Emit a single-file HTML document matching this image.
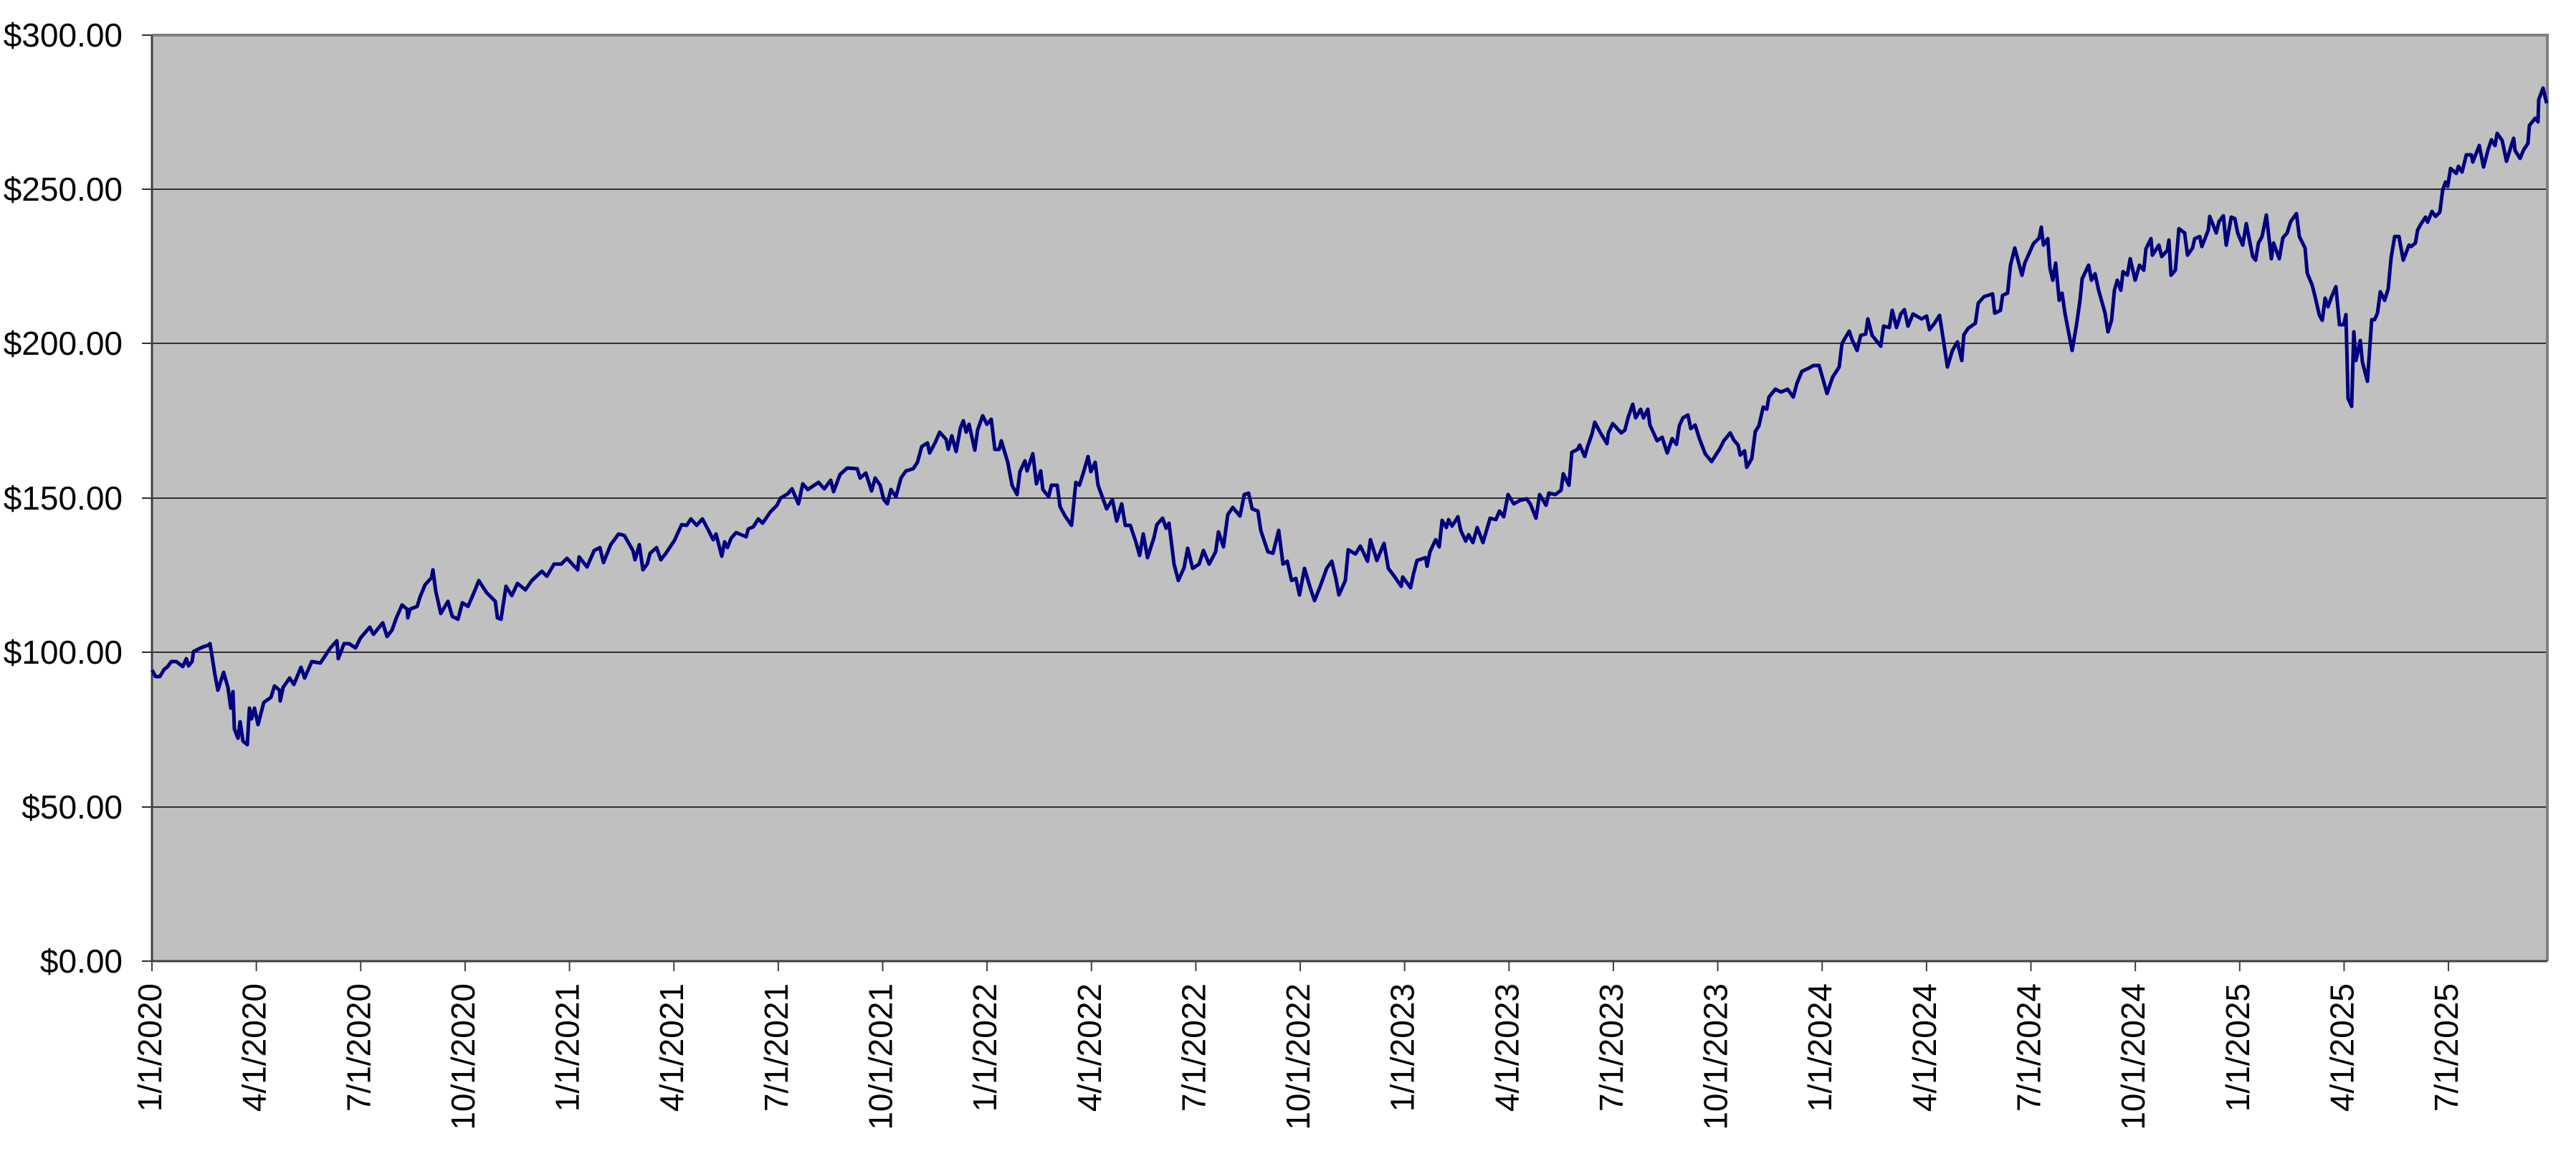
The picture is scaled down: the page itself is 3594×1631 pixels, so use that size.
<!DOCTYPE html>
<html><head><meta charset="utf-8"><style>
html,body{margin:0;padding:0;background:#fff;}
svg{display:block;}
text{font-family:"Liberation Sans",Arial,sans-serif;font-size:46px;fill:#000;}
</style></head><body>
<svg width="3594" height="1631" viewBox="0 0 3594 1631" xmlns="http://www.w3.org/2000/svg">
<rect x="212" y="49" width="3342" height="1292" fill="#c0c0c0"/>
<g stroke="#303030" stroke-width="2">
<line x1="198" y1="264" x2="3554" y2="264"/>
<line x1="198" y1="479" x2="3554" y2="479"/>
<line x1="198" y1="695" x2="3554" y2="695"/>
<line x1="198" y1="910" x2="3554" y2="910"/>
<line x1="198" y1="1126" x2="3554" y2="1126"/>
<line x1="198" y1="49" x2="212" y2="49"/>
<line x1="198" y1="1341" x2="212" y2="1341"/>
</g>
<polyline fill="none" stroke="#808080" stroke-width="4" points="212,49 3554,49 3554,1341"/>
<polyline fill="none" stroke="#404040" stroke-width="3" points="212,49 212,1341 3554,1341"/>
<g stroke="#404040" stroke-width="2" id="ticks"></g>
<g text-anchor="end">
<text x="171" y="65">$300.00</text>
<text x="171" y="280">$250.00</text>
<text x="171" y="495">$200.00</text>
<text x="171" y="711">$150.00</text>
<text x="171" y="926">$100.00</text>
<text x="171" y="1142">$50.00</text>
<text x="171" y="1357">$0.00</text>
</g>
<g id="xl" text-anchor="end"></g>
<polyline fill="none" stroke="#000080" stroke-width="5" stroke-linejoin="round" points="
212,935 214,938 217,944 223,944 229,934 234,930 239,923 246,923 255,930 260,919 263,929 268,923 270,909 280,904 285,902 291,900 293,898 300,942 304,963 312,938 318,959 322,988 325,965 327,1017 332,1030 335,1007 339,1034 345,1039 348,988 351,1003 355,988 360,1011 368,980 378,973 383,957 390,963 391,978 395,959 404,946 410,955 420,931 425,946 435,923 447,925 461,904 470,894 472,919 480,898 487,898 496,904 503,890 516,875 521,885 534,869 540,888 547,879 553,862 561,844 568,850 569,862 572,850 582,846 586,833 593,816 602,806 604,795 608,825 615,856 625,839 631,860 639,864 645,841 653,846 662,825 668,810 679,827 691,839 694,862 699,864 706,818 714,831 722,814 733,823 742,810 756,797 763,804 773,787 783,787 791,779 806,795 808,777 819,791 829,768 837,764 842,785 852,760 863,745 871,747 883,768 886,781 892,760 897,795 903,787 907,772 916,764 922,781 929,772 941,754 951,732 958,733 964,724 972,733 980,724 988,739 995,753 999,745 1007,776 1011,756 1015,764 1020,751 1027,743 1041,749 1044,738 1051,735 1058,724 1064,730 1075,714 1084,705 1089,695 1099,689
1105,682 1114,703 1120,675 1127,683 1142,673 1150,682 1159,670 1163,686 1172,662 1182,653 1196,654 1200,667 1208,660 1216,685 1221,667 1228,677 1233,697 1238,703 1243,683 1250,693 1257,667 1264,657 1274,654 1280,645 1286,623 1294,618 1297,632 1305,617 1311,603 1320,613 1323,627 1328,608 1334,630 1340,597 1344,587 1348,603 1352,592 1360,628 1364,600 1371,580 1377,592 1383,585 1388,627 1394,627 1397,615 1406,645 1412,677 1419,690 1423,658 1430,643 1433,657 1441,633 1446,675 1452,657 1455,683 1463,693 1467,677 1475,677 1479,707 1486,720 1495,733 1501,673 1506,677 1512,658 1518,637 1522,658 1528,645 1532,677 1544,710 1552,697 1558,727 1565,703 1570,733 1577,733 1585,757 1590,775 1595,745 1601,778 1610,750 1614,732 1622,723 1627,737 1631,730 1638,787 1644,810 1652,792 1657,765 1664,793 1673,787 1679,768 1687,787 1696,770 1700,742 1707,763 1713,718 1720,708 1730,720 1736,690 1742,688 1747,710 1755,713 1759,740 1769,770 1776,772 1784,740 1790,787 1796,783 1802,810 1808,807 1813,830 1820,793 1828,820 1834,838 1842,818 1851,793 1858,783 1864,808 1868,830 1877,810 1881,767 1891,773 1898,762 1908,783 1912,753 1921,782 1931,758 1937,793 1946,805 1955,818 1957,805 1968,820 1972,801 1977,782 1989,778 1991,790 1995,770 2003,753 2008,763 2012,726 2018,736 2021,725 2026,734 2034,721 2038,740 2045,755 2049,746 2055,757 2061,736 2069,757 2079,723 2087,725 2092,713 2098,721 2104,690 2112,703 2121,698 2130,696 2135,703 2143,723 2148,690 2157,705 2161,688 2170,690 2178,684 2181,661 2189,677 2193,631 2201,627 2204,621 2211,637 2215,623 2221,606 2225,589 2233,604 2242,619 2244,604 2250,591 2262,604 2267,600 2272,581 2278,564 2282,583 2289,571 2293,583 2299,571 2302,593 2312,615 2319,610 2326,632 2333,612 2339,620 2343,594 2348,583 2355,579 2359,598 2365,593 2371,612 2379,633 2388,644 2395,633 2399,627 2405,615 2414,604 2419,614 2425,621 2428,635 2434,629 2437,652 2444,640 2449,602 2454,594 2460,568 2465,571 2468,554 2477,543 2485,547 2494,543 2502,554 2507,535 2514,518 2523,514 2530,510 2538,510 2549,549 2557,526 2566,512 2570,479 2580,462 2584,474 2591,489 2596,468 2603,466 2606,445 2612,468 2624,483 2628,455 2636,457 2640,433 2646,457 2652,438 2657,432 2662,455 2669,438 2681,445 2688,441 2692,460 2699,451 2706,440 2711,472 2717,512 2724,489 2731,477 2737,503 2740,467 2746,458 2756,451 2760,423 2768,414 2780,410 2783,437 2791,433 2794,412 2801,409 2805,370 2811,346 2821,384 2825,367 2837,340 2845,332 2848,317 2851,342 2857,333 2860,374 2864,391 2868,367 2873,419 2877,409 2881,437 2885,458 2891,489 2897,454 2902,419 2905,389 2914,370 2918,391 2923,382 2928,405 2937,437 2941,463 2946,447 2950,405 2954,391 2959,405 2962,379 2968,384 2972,361 2979,391 2985,370 2991,377 2994,347 3001,333 3003,356 3012,342 3016,358 3024,349 3026,335 3029,384 3035,377 3040,319 3048,325 3052,356 3059,346 3062,333 3069,330 3072,344 3081,321 3083,302 3092,325 3096,309 3102,301 3106,342 3113,303 3118,305 3122,325 3129,342 3134,312 3138,333 3143,358 3147,363 3151,339 3156,330 3162,300 3169,361 3172,339 3180,361 3185,332 3191,325 3196,309 3204,298 3208,330 3216,346 3219,381 3226,398 3230,414 3236,440 3240,447 3244,416 3248,428 3253,414 3259,400 3264,453 3270,453 3273,439 3276,556 3281,567 3284,463 3287,503 3293,475 3296,505 3303,532 3309,446 3313,446 3317,437 3321,407 3327,419 3332,403 3336,360 3341,330 3347,330 3353,363 3361,342 3364,344 3370,339 3373,321 3378,312 3384,303 3387,310 3393,295 3398,302 3404,296 3408,265 3412,254 3415,260 3419,235 3427,242 3430,232 3435,240 3441,216 3448,216 3450,226 3459,203 3465,233 3471,210 3476,195 3481,203 3484,186 3491,196 3497,225 3501,212 3507,193 3509,210 3516,221 3521,209 3527,200 3529,175 3537,165 3541,170 3542,139 3548,123 3553,144"/>
</svg>
<script>
var labels=["1/1/2020","4/1/2020","7/1/2020","10/1/2020","1/1/2021","4/1/2021","7/1/2021","10/1/2021","1/1/2022","4/1/2022","7/1/2022","10/1/2022","1/1/2023","4/1/2023","7/1/2023","10/1/2023","1/1/2024","4/1/2024","7/1/2024","10/1/2024","1/1/2025","4/1/2025","7/1/2025"];
var t=document.getElementById("ticks"),xl=document.getElementById("xl"),ns="http://www.w3.org/2000/svg";
for(var i=0;i<labels.length;i++){var x=212+i*145.64;
var l=document.createElementNS(ns,"line");l.setAttribute("x1",x);l.setAttribute("x2",x);l.setAttribute("y1",1341);l.setAttribute("y2",1355);t.appendChild(l);
var tx=document.createElementNS(ns,"text");tx.setAttribute("transform","translate("+(x+13)+",1372) rotate(-90)");tx.textContent=labels[i];xl.appendChild(tx);}
</script>
</body></html>
